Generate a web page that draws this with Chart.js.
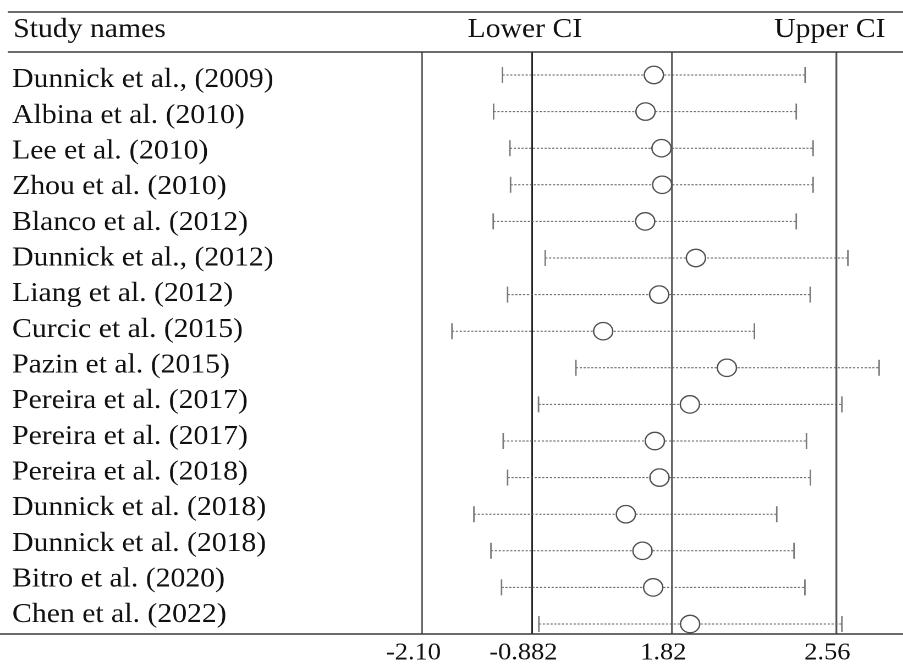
<!DOCTYPE html>
<html>
<head>
<meta charset="utf-8">
<title>Study confidence intervals</title>
<script src="https://cdn.jsdelivr.net/npm/chart.js@4.4.1/dist/chart.umd.min.js"></script>
<style>
  html, body { margin: 0; padding: 0; background: #fff; overflow: hidden; }
  /* the table is laid out on a narrower canvas and widened to the page */
  #frame { position: absolute; left: 0; top: 0; width: 821px; height: 668px; transform: scaleX(1.1); transform-origin: 0 0; }
  #forest { display: block; }
</style>
</head>
<body>
<div id="frame"><canvas id="forest" width="821" height="668"></canvas></div>
<script>
// Studies, top to bottom
const studyNames = [
  'Dunnick et al., (2009)', 'Albina et al. (2010)', 'Lee et al. (2010)', 'Zhou et al. (2010)',
  'Blanco et al. (2012)', 'Dunnick et al., (2012)', 'Liang et al. (2012)', 'Curcic et al. (2015)',
  'Pazin et al. (2015)', 'Pereira et al. (2017)', 'Pereira et al. (2017)', 'Pereira et al. (2018)',
  'Dunnick et al. (2018)', 'Dunnick et al. (2018)', 'Bitro et al. (2020)', 'Chen et al. (2022)'
];
// Point estimates and confidence limits per study
const estimate = [1.467, 1.305, 1.614, 1.627, 1.299, 1.927, 1.569, 0.488, 2.067, 1.900, 1.486, 1.575, 0.926, 1.247, 1.453, 1.901];
const lowerCI  = [-1.211, -1.310, -1.129, -1.122, -1.314, -0.631, -1.155, -1.771, -0.039, -0.760, -1.203, -1.155, -1.528, -1.339, -1.222, -0.753];
const upperCI  = [2.420, 2.380, 2.456, 2.456, 2.380, 2.613, 2.443, 2.191, 2.754, 2.586, 2.426, 2.444, 2.292, 2.370, 2.419, 2.586];
// Reference values marked on the axis
const tickValues = [-2.10, -0.882, 1.82, 2.56];
const tickLabels = ['-2.10', '-0.882', '1.82', '2.56'];

// Axis layout: where each reference value sits across the plot width (0 = left, 1 = right)
const tickPlaces = [0.2023, 0.3847, 0.6169, 0.8889];

function segmentIndex(list, v) {
  let i = 0;
  while (i < list.length - 2 && v > list[i + 1]) i++;
  return i;
}
function placeOf(v) {
  const i = segmentIndex(tickValues, v);
  const v0 = tickValues[i], v1 = tickValues[i + 1];
  return tickPlaces[i] + (v - v0) / (v1 - v0) * (tickPlaces[i + 1] - tickPlaces[i]);
}
function valueAt(p) {
  const i = segmentIndex(tickPlaces, p);
  const p0 = tickPlaces[i], p1 = tickPlaces[i + 1];
  return tickValues[i] + (p - p0) / (p1 - p0) * (tickValues[i + 1] - tickValues[i]);
}

// Linear axis stretched piecewise between the reference values
class SegmentedScale extends Chart.LinearScale {
  getPixelForValue(value) {
    return this.left + placeOf(value) * this.width;
  }
  getValueForPixel(pixel) {
    return valueAt((pixel - this.left) / this.width);
  }
}
SegmentedScale.id = 'segmented';
Chart.register(SegmentedScale);

const serif = "'Liberation Serif', 'Times New Roman', serif";
const ink = '#111111';

// Rules and column headings of the table
const tableFrame = {
  id: 'tableFrame',
  afterDraw(chart) {
    const { ctx, width, chartArea } = chart;
    ctx.save();
    ctx.strokeStyle = '#3a3a3a';
    ctx.lineWidth = 1.6;
    ctx.beginPath();
    ctx.moveTo(7, 12); ctx.lineTo(width, 12);
    ctx.moveTo(7, chartArea.top); ctx.lineTo(width, chartArea.top);
    ctx.moveTo(0, chartArea.bottom); ctx.lineTo(width, chartArea.bottom);
    ctx.stroke();
    ctx.fillStyle = ink;
    ctx.font = '27px ' + serif;
    ctx.textBaseline = 'alphabetic';
    ctx.textAlign = 'left';
    ctx.fillText('Study names', 12, 37);
    ctx.fillText('Lower CI', 425, 37);
    ctx.textAlign = 'right';
    ctx.fillText('Upper CI', 805, 37);
    ctx.restore();
  }
};

const whiskers = studyNames.map((name, i) => ({
  type: 'line',
  label: name,
  xAxisID: 'x',
  yAxisID: 'rows',
  data: [{ x: lowerCI[i], y: i }, { x: upperCI[i], y: i }],
  borderColor: '#5e5e5e',
  borderWidth: 1,
  borderDash: [2, 1.5],
  pointStyle: 'line',
  pointRotation: 90,
  pointRadius: 8,
  pointBorderColor: '#7a7a7a',
  pointBorderWidth: 1.4,
  fill: false,
  clip: false,
  order: 1
}));

const markers = {
  type: 'scatter',
  label: 'Estimate',
  xAxisID: 'x',
  yAxisID: 'rows',
  data: estimate.map((v, i) => ({ x: v, y: i })),
  pointStyle: 'circle',
  pointRadius: 8.7,
  pointBackgroundColor: '#ffffff',
  pointBorderColor: '#505050',
  pointBorderWidth: 1.3,
  clip: false,
  order: 0
};

const gridColors = ['#555555', '#222222', '#666666', '#555555'];
const gridWidths = [1.4, 1.5, 1.8, 1.7];

// keep the plot edges fixed regardless of label overhang
const noEdgePadding = s => { s.paddingLeft = 0; s.paddingRight = 0; s.paddingTop = 0; s.paddingBottom = 0; };

new Chart(document.getElementById('forest'), {
  type: 'scatter',
  data: { datasets: [markers, ...whiskers] },
  options: {
    responsive: false,
    devicePixelRatio: 2,
    animation: false,
    events: [],
    layout: { autoPadding: false, padding: { left: 11, right: 0, top: 52, bottom: 0 } },
    plugins: { legend: { display: false }, tooltip: { enabled: false } },
    scales: {
      x: {
        type: 'segmented',
        position: 'bottom',
        min: -2.4,
        max: 2.9,
        afterBuildTicks: s => { s.ticks = tickValues.map(v => ({ value: v })); },
        afterFit: s => { s.height = 34; noEdgePadding(s); },
        grid: {
          drawTicks: false,
          color: c => gridColors[c.index] || '#555',
          lineWidth: c => gridWidths[c.index] || 1.5
        },
        border: { display: false },
        ticks: {
          autoSkip: false,
          maxRotation: 0,
          padding: 5,
          labelOffset: -8,
          color: ink,
          font: { family: serif, size: 24 },
          callback: (v, i) => tickLabels[i]
        }
      },
      names: {
        type: 'linear',
        axis: 'y',
        position: 'left',
        reverse: true,
        min: -0.785,
        max: 15.532,
        afterBuildTicks: s => { s.ticks = studyNames.map((n, i) => ({ value: i })); },
        afterFit: s => { s.width = 262; noEdgePadding(s); },
        grid: { display: false },
        border: { display: false },
        ticks: {
          autoSkip: false,
          crossAlign: 'far',
          padding: 0,
          color: ink,
          font: { family: serif, size: 27 },
          callback: (v, i) => studyNames[i]
        }
      },
      rows: {
        type: 'linear',
        axis: 'y',
        position: 'left',
        display: false,
        reverse: true,
        min: -0.628,
        max: 15.273
      }
    }
  },
  plugins: [tableFrame]
});
</script>
</body>
</html>
